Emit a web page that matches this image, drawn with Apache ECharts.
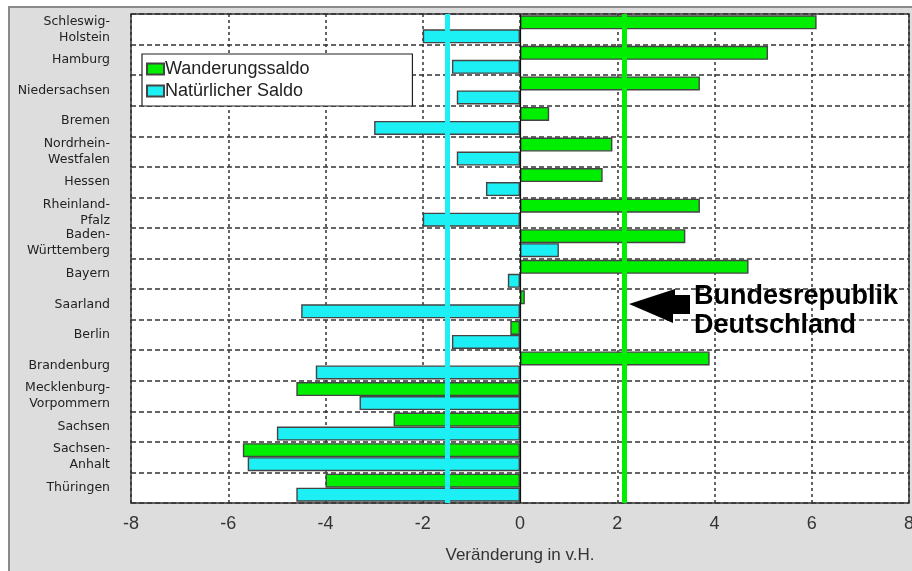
<!DOCTYPE html>
<html>
<head>
<meta charset="utf-8">
<script src="https://cdn.jsdelivr.net/npm/echarts@6/dist/echarts.min.js"></script>
<style>
  html, body { margin: 0; padding: 0; background: #fff; }
  #ChartDom { width: 912px; height: 571px; }
</style>
</head>
<body>
<div id="ChartDom"></div>
<script>
const states = [
  "Schleswig-\nHolstein", "Hamburg", "Niedersachsen", "Bremen",
  "Nordrhein-\nWestfalen", "Hessen", "Rheinland-\nPfalz", "Baden-\nWürttemberg",
  "Bayern", "Saarland", "Berlin", "Brandenburg",
  "Mecklenburg-\nVorpommern", "Sachsen", "Sachsen-\nAnhalt", "Thüringen"
]
const wanderungssaldo = [6.1, 5.1, 3.7, 0.6, 1.9, 1.7, 3.7, 3.4, 4.7, 0.1, -0.2, 3.9, -4.6, -2.6, -5.7, -4.0]
const natuerlicherSaldo = [-2.0, -1.4, -1.3, -3.0, -1.3, -0.7, -2.0, 0.8, -0.25, -4.5, -1.4, -4.2, -3.3, -5.0, -5.6, -4.6]
const xTicks = [-8, 8, 2]
const brdWanderung = 2.15
const brdNatuerlich = -1.5

const chartDom = document.getElementById("ChartDom")
const myChart = echarts.init(chartDom)

const green = "#00ee00"
const cyan = "#1cf0f4"
const textColor = "#222"
const sans = "'Liberation Sans', Arial, sans-serif"

myChart.setOption({
  animation: false,
  backgroundColor: "#fff",
  color: [green, cyan],
  graphic: [
    {
      type: "rect", z: -10,
      shape: { x: 9, y: 7, width: 910, height: 570 },
      style: { fill: "#dddddd", stroke: "#8a8a8a", lineWidth: 2 },
    },
    {
      type: "polygon", z: 100,
      shape: { points: [[629, 304], [675, 289], [675, 295], [690, 295], [690, 314], [673, 314], [673, 323]] },
      style: { fill: "#000" },
    },
    {
      type: "text", z: 100, left: 694, top: 282,
      style: {
        text: "Bundesrepublik\nDeutschland",
        font: "bold 27px " + sans,
        lineHeight: 29, fill: "#000",
      },
    },
  ],
  legend: {
    orient: "vertical",
    left: 142, top: 54,
    padding: [6, 103, 6, 4],
    itemGap: 4,
    icon: "rect",
    itemWidth: 17, itemHeight: 11,
    backgroundColor: "#fff",
    borderColor: "#222", borderWidth: 1.2,
    textStyle: { color: "#222", fontSize: 18, fontFamily: sans, padding: [0, 0, 0, -4] },
    data: ["Wanderungssaldo", "Natürlicher Saldo"],
  },
  grid: {
    left: 131, top: 14, right: 3, bottom: 68,
    outerBoundsMode: "none",
    show: true, backgroundColor: "#fff", borderColor: "#333", borderWidth: 1.5,
  },
  xAxis: {
    type: "value",
    min: xTicks[0], max: xTicks[1], interval: xTicks[2],
    name: "Veränderung in v.H.",
    nameLocation: "middle", nameGap: 44,
    nameTextStyle: { color: "#333", fontSize: 17, fontFamily: sans },
    axisLine: { show: false },
    axisTick: { show: false },
    axisLabel: { color: "#333", fontSize: 18, margin: 12, fontFamily: sans },
    splitLine: { show: true, lineStyle: { type: [3, 3], color: "#333", width: 1.5 } },
  },
  yAxis: {
    type: "category",
    inverse: true,
    data: states,
    axisLine: { show: false },
    axisTick: { show: false },
    axisLabel: {
      color: textColor, fontSize: 12.5, margin: 21, lineHeight: 16,
      fontFamily: "'DejaVu Sans', Verdana, sans-serif",
    },
    splitLine: { show: true, interval: 0, lineStyle: { type: [5, 3], color: "#333", width: 1.5 } },
  },
  series: [
    {
      name: "Wanderungssaldo",
      type: "bar",
      barWidth: 14, barGap: "0%",
      itemStyle: { color: green, borderColor: "#444", borderWidth: 1.4 },
      data: wanderungssaldo,
      markLine: {
        silent: true, symbol: "none", label: { show: false }, z: 10,
        data: [
          { xAxis: 0, lineStyle: { color: "#111", width: 1.2, type: "solid" } },
          { xAxis: brdNatuerlich, lineStyle: { color: cyan, width: 5, type: "solid" } },
          { xAxis: brdWanderung, lineStyle: { color: green, width: 5, type: "solid" } },
        ],
      },
    },
    {
      name: "Natürlicher Saldo",
      type: "bar",
      barWidth: 14, barGap: "0%",
      itemStyle: { color: cyan, borderColor: "#444", borderWidth: 1.4 },
      data: natuerlicherSaldo,
    },
  ],
})
window.addEventListener("resize", () => myChart.resize(), { passive: true })
</script>
</body>
</html>
